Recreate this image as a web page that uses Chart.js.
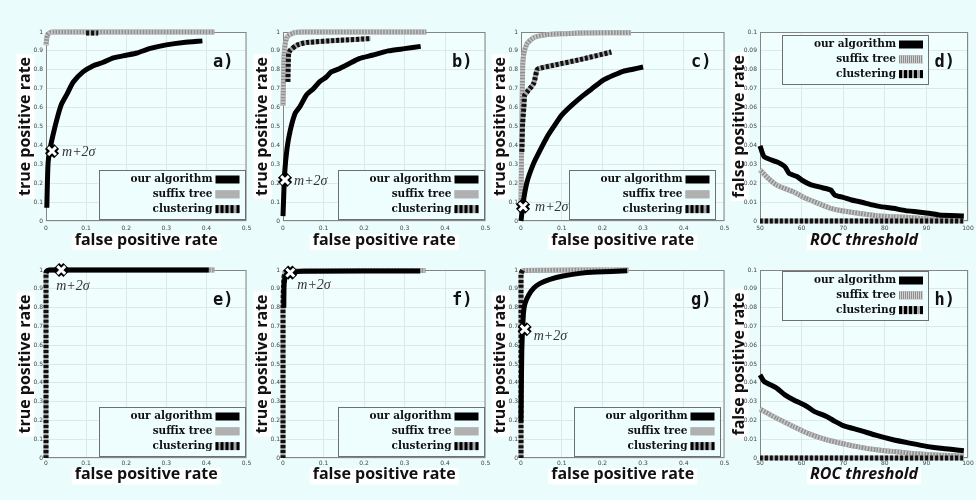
<!DOCTYPE html>
<html>
<head>
<meta charset="utf-8">
<script src="https://cdn.jsdelivr.net/npm/chart.js@4.4.1/dist/chart.umd.min.js"></script>
<style>
  html, body { margin: 0; padding: 0; background: #eafcfc; }
  #fig { position: relative; width: 976px; height: 500px; overflow: hidden; }
  #fig canvas { position: absolute; }
</style>
</head>
<body>
<div id="fig"></div>
<script>
const seriesNames = ["our algorithm", "suffix tree", "clustering"];
const panelLetters = ["a)", "b)", "c)", "d)", "e)", "f)", "g)", "h)"];
const markerLabel = "m+2σ";

const fprTicks = [0, 0.1, 0.2, 0.3, 0.4, 0.5];
const tprTicks = [0, 0.1, 0.2, 0.3, 0.4, 0.5, 0.6, 0.7, 0.8, 0.9, 1];
const thresholdTicks = [50, 60, 70, 80, 90, 100];
const fpRateTicks = [0, 0.01, 0.02, 0.03, 0.04, 0.05, 0.06, 0.07, 0.08, 0.09, 0.1];

// ROC curves, [false positive rate, true positive rate]
const ourA = [[0.002, 0.07], [0.005, 0.3], [0.01, 0.38], [0.018, 0.46], [0.03, 0.56], [0.039, 0.62], [0.052, 0.67], [0.068, 0.735], [0.093, 0.79], [0.118, 0.822], [0.143, 0.84], [0.168, 0.863], [0.2, 0.877], [0.227, 0.889], [0.26, 0.913], [0.3, 0.932], [0.343, 0.945], [0.39, 0.953]];
const suffixA = [[0, 0.93], [0.003, 0.98], [0.01, 0.997], [0.02, 1], [0.42, 1]];
const clustA = [[0.1, 0.995], [0.13, 0.995]];

const ourB = [[0, 0.026], [0.004, 0.25], [0.01, 0.384], [0.018, 0.48], [0.03, 0.57], [0.042, 0.606], [0.058, 0.667], [0.075, 0.7], [0.09, 0.736], [0.107, 0.762], [0.119, 0.789], [0.139, 0.806], [0.164, 0.833], [0.188, 0.859], [0.22, 0.877], [0.26, 0.9], [0.3, 0.912], [0.34, 0.924]];
const suffixB = [[0, 0.61], [0.003, 0.886], [0.01, 0.974], [0.026, 0.995], [0.05, 1], [0.354, 1]];
const clustB = [[0.012, 0.736], [0.013, 0.83], [0.014, 0.886], [0.018, 0.903], [0.034, 0.93], [0.058, 0.944], [0.139, 0.956], [0.216, 0.965]];

const ourC = [[0, 0], [0.005, 0.093], [0.015, 0.208], [0.031, 0.305], [0.047, 0.375], [0.064, 0.445], [0.08, 0.498], [0.1, 0.56], [0.125, 0.613], [0.153, 0.665], [0.178, 0.706], [0.202, 0.745], [0.227, 0.771], [0.251, 0.792], [0.275, 0.803], [0.3, 0.815]];
const suffixC = [[0, 0.09], [0.002, 0.46], [0.004, 0.81], [0.007, 0.886], [0.015, 0.938], [0.031, 0.97], [0.064, 0.986], [0.104, 0.991], [0.145, 0.995], [0.27, 0.996]];
const clustC = [[0.002, 0.366], [0.004, 0.516], [0.007, 0.604], [0.009, 0.665], [0.015, 0.683], [0.031, 0.727], [0.039, 0.798], [0.043, 0.806], [0.08, 0.824], [0.145, 0.854], [0.222, 0.894]];

const ourE = [[0, 0.985], [0.004, 0.997], [0.01, 1], [0.406, 1]];
const suffixE = [[0, 0.99], [0.01, 1], [0.42, 1]];
const clustE = [[0, 0], [0, 0.99], [0.006, 1]];

const ourF = [[0.002, 0.8], [0.003, 0.93], [0.008, 0.975], [0.018, 0.986], [0.05, 0.993], [0.339, 0.995]];
const suffixF = [[0, 0.98], [0.01, 0.995], [0.352, 0.997]];
const clustF = [[0, 0], [0, 0.8], [0.003, 0.97], [0.01, 0.99]];

const ourG = [[0, 0.195], [0.002, 0.575], [0.006, 0.77], [0.01, 0.823], [0.019, 0.867], [0.031, 0.903], [0.047, 0.929], [0.071, 0.95], [0.103, 0.968], [0.144, 0.982], [0.184, 0.989], [0.261, 0.996]];
const suffixG = [[0, 0.98], [0.005, 0.998], [0.265, 1]];
const clustG = [[0, 0], [0, 0.98], [0.004, 1]];

// false positive rate against ROC threshold
const ourD = [[50, 0.0398], [51, 0.034], [54, 0.0313], [56, 0.0287], [57, 0.0252], [59, 0.0234], [60, 0.0217], [62, 0.0194], [65, 0.0176], [67, 0.0164], [68, 0.0137], [70, 0.0125], [72, 0.0111], [74, 0.0102], [77, 0.0085], [79, 0.0076], [82, 0.0067], [85, 0.0055], [88, 0.0048], [91, 0.004], [93, 0.0032], [99, 0.0026]];
const suffixD = [[50, 0.027], [52, 0.0225], [54, 0.019], [58, 0.0155], [61, 0.012], [64, 0.0093], [67, 0.0067], [70, 0.0053], [74, 0.004], [78, 0.0028], [82, 0.0023], [86, 0.0018], [90, 0.0012], [94, 0.0009], [99, 0.0005]];
const clustD = [[50, 0], [99, 0]];

const ourH = [[50, 0.0442], [51, 0.0407], [54, 0.0372], [56, 0.0336], [58, 0.031], [61, 0.0278], [63, 0.0248], [66, 0.0221], [68, 0.0195], [70, 0.0172], [74, 0.0147], [78, 0.012], [82, 0.0097], [86, 0.0079], [90, 0.0062], [94, 0.005], [99, 0.0039]];
const suffixH = [[50, 0.026], [54, 0.0212], [58, 0.0168], [62, 0.0127], [66, 0.0097], [70, 0.0076], [74, 0.0058], [78, 0.0044], [82, 0.0034], [86, 0.0025], [90, 0.0019], [94, 0.0014], [99, 0.0011]];
const clustH = [[50, 0], [99, 0]];

// m+2σ operating points
const markerA = [[0.015, 0.37]];
const markerB = [[0.005, 0.217]];
const markerC = [[0.005, 0.076]];
const markerE = [[0.038, 1]];
const markerF = [[0.018, 0.986]];
const markerG = [[0.009, 0.685]];

const TITLE_FONT = { family: '"Open Sans", "DejaVu Sans", sans-serif', size: 16, weight: "bold" };
const TICK_FONT = { family: '"DejaVu Sans", sans-serif', size: 6 };

const roc = { xTicks: fprTicks, yTicks: tprTicks, xTitle: "false positive rate", yTitle: "true positive rate", xMax: 0.5, yMax: 1, xMin: 0 };
const thr = { xTicks: thresholdTicks, yTicks: fpRateTicks, xTitle: "ROC threshold", yTitle: "false positive rate", xMax: 100, yMax: 0.1, xMin: 50, italic: true };

const colLeft = [46, 283, 521, 760];
const colRight = [250, 489, 728, 968];
const rowTop = [32, 270];
const rowBottom = [221, 458];
const xTitlePad = [0, 16];
const yTitlePad = 16;

const panels = [
  { kind: roc, col: 0, row: 0, our: ourA, suffix: suffixA, clust: clustA, marker: markerA, markOff: [10, 1], legend: "br", legendDx: -2 },
  { kind: roc, col: 1, row: 0, our: ourB, suffix: suffixB, clust: clustB, marker: markerB, markOff: [9, 1], legend: "br", legendDx: -2 },
  { kind: roc, col: 2, row: 0, our: ourC, suffix: suffixC, clust: clustC, marker: markerC, markOff: [12, 1], legend: "br", legendDx: -10 },
  { kind: thr, col: 3, row: 0, our: ourD, suffix: suffixD, clust: clustD, legend: "tl" },
  { kind: roc, col: 0, row: 1, our: ourE, suffix: suffixE, clust: clustE, marker: markerE, markOff: [-5, 16], legend: "br", legendDx: -2 },
  { kind: roc, col: 1, row: 1, our: ourF, suffix: suffixF, clust: clustF, marker: markerF, markOff: [7, 13], legend: "br", legendDx: -2 },
  { kind: roc, col: 2, row: 1, our: ourG, suffix: suffixG, clust: clustG, marker: markerG, markOff: [9, 7], legend: "br", legendDx: -5 },
  { kind: thr, col: 3, row: 1, our: ourH, suffix: suffixH, clust: clustH, legend: "tl" }
];

function drawSwatch(ctx, i, x, y, w, h) {
  if (i === 0) {
    ctx.fillStyle = "#000";
    ctx.fillRect(x, y, w, h);
  } else if (i === 1) {
    ctx.fillStyle = "#8e8e8e";
    ctx.fillRect(x, y, w, h);
    ctx.fillStyle = "#d2d2d2";
    for (let k = 1; k < w; k += 2) ctx.fillRect(x + k, y, 1, h);
  } else {
    ctx.fillStyle = "#a8a8a8";
    ctx.fillRect(x, y, w, h);
    ctx.fillStyle = "#000";
    [0, 5, 10, 15, 21].forEach((k) => ctx.fillRect(x + k, y, 3, h));
  }
}

function fontString(f, italic) {
  return `${italic ? "italic " : ""}${f.weight} ${f.size}px ${f.family}`;
}

const panelDecor = {
  id: "panelDecor",
  beforeDraw(chart, args, opts) {
    const { ctx, chartArea: a } = chart;
    const p = opts.panel;
    const lh = TITLE_FONT.size * 1.2;
    ctx.save();
    ctx.fillStyle = "#f1fefe";
    ctx.fillRect(a.left, a.top, a.right - a.left, a.bottom - a.top);

    // white boxes behind the axis titles
    ctx.fillStyle = "#ffffff";
    ctx.font = fontString(TITLE_FONT, p.kind.italic);
    const xs = chart.scales.x;
    const wx = ctx.measureText(p.kind.xTitle).width;
    const cx = (a.left + a.right) / 2;
    const cyx = xs.bottom - xTitlePad[p.row] - lh / 2;
    ctx.fillRect(cx - wx / 2 - 3, cyx - 6, wx + 6, 16);
    ctx.font = fontString(TITLE_FONT, false);
    const ys = chart.scales.y;
    const wy = ctx.measureText(p.kind.yTitle).width;
    const cxy = ys.left + yTitlePad + lh / 2;
    const cy = (a.top + a.bottom) / 2;
    ctx.fillRect(cxy - 9, cy - wy / 2 - 3, 18, wy + 6);
    ctx.restore();
  },
  beforeDatasetsDraw(chart) {
    const { ctx, chartArea: a } = chart;
    ctx.save();
    ctx.strokeStyle = "#858585";
    ctx.lineWidth = 1;
    ctx.strokeRect(a.left + 0.5, a.top + 0.5, a.right - a.left - 1, a.bottom - a.top - 1);
    ctx.restore();
  },
  afterDraw(chart, args, opts) {
    const { ctx, chartArea: a } = chart;
    const p = opts.panel;
    ctx.save();

    // panel letter
    ctx.fillStyle = "#111";
    ctx.font = 'bold 17px "DejaVu Sans Mono", monospace';
    ctx.textAlign = "right";
    ctx.textBaseline = "middle";
    ctx.fillText(panelLetters[p.index], a.right - 13, a.top + 31);

    // m+2σ label
    if (p.marker) {
      const mx = chart.scales.x.getPixelForValue(p.marker[0][0]);
      const my = chart.scales.y.getPixelForValue(p.marker[0][1]);
      ctx.font = 'italic 14px "Liberation Serif", serif';
      ctx.fillStyle = "#333";
      ctx.textAlign = "left";
      ctx.fillText(markerLabel, mx + p.markOff[0], my + p.markOff[1]);
    }

    // legend box
    const bw = 146, bh = 49;
    let bx, by;
    if (p.legend === "br") {
      bx = a.right + p.legendDx - bw;
      by = a.bottom - 2 - bh;
    } else {
      bx = a.left + 22;
      by = a.top + (p.row === 0 ? 3 : 1);
    }
    ctx.fillStyle = "#eefdfd";
    ctx.fillRect(bx, by, bw, bh);
    ctx.strokeStyle = "#6f6f6f";
    ctx.lineWidth = 1;
    ctx.strokeRect(Math.round(bx) + 0.5, Math.round(by) + 0.5, bw, bh);
    ctx.font = 'bold 10.5px "DejaVu Serif", serif';
    ctx.textAlign = "right";
    seriesNames.forEach((name, i) => {
      const cy = by + 9.5 + i * 14.8;
      ctx.fillStyle = "#111";
      ctx.fillText(name, bx + bw - 32, cy);
      drawSwatch(ctx, i, bx + bw - 29, cy - 4, 24, 8);
    });
    ctx.restore();
  }
};

function line(data, color, dash) {
  return {
    data,
    borderColor: color,
    borderWidth: 5,
    borderDash: dash || [],
    borderCapStyle: "butt",
    borderJoinStyle: "round",
    pointRadius: 0,
    tension: 0.2,
    clip: 10
  };
}

function buildDatasets(p) {
  const sets = [];
  if (p.marker) {
    sets.push({ data: p.marker, showLine: false, pointStyle: "crossRot", pointRadius: 5.5, pointBorderWidth: 3, pointBorderColor: "#fff", clip: 14 });
    sets.push({ data: p.marker, showLine: false, pointStyle: "crossRot", pointRadius: 6.5, pointBorderWidth: 7, pointBorderColor: "#000", clip: 14 });
  }
  sets.push(line(p.our, "#000"));
  sets.push(line(p.clust, "#111", [3, 2]));
  sets.push(line(p.clust, "#a6a6a6"));
  sets.push(line(p.suffix, "#c8c8c8", [1.5, 1.5]));
  sets.push(line(p.suffix, "#8f8f8f"));
  return sets;
}

function fmtTick(v) {
  return String(+Number(v).toFixed(3));
}

function makePanel(p, index) {
  p.index = index;
  const k = p.kind;
  const plotL = colLeft[p.col], plotR = colRight[p.col];
  const plotT = rowTop[p.row], plotB = rowBottom[p.row];
  const left = plotL - 46;
  const top = plotT - 32;
  const width = plotR - plotL + 46 + 10;
  const height = p.row === 0 ? 250 : 500 - top;
  const xAxisH = height - 32 - (plotB - plotT);

  const canvas = document.createElement("canvas");
  canvas.width = width;
  canvas.height = height;
  canvas.style.left = left + "px";
  canvas.style.top = top + "px";
  document.getElementById("fig").appendChild(canvas);

  const gridOpts = { color: "#d6e3e3", lineWidth: 0.8, drawTicks: false };
  const titleFont = Object.assign({}, TITLE_FONT, k.italic ? { style: "italic" } : {});

  new Chart(canvas, {
    type: "line",
    data: { datasets: buildDatasets(p) },
    options: {
      responsive: false,
      animation: false,
      events: [],
      layout: { padding: { top: 32, right: 10, bottom: 0, left: 0 } },
      plugins: {
        legend: { display: false },
        tooltip: { enabled: false },
        panelDecor: { panel: p }
      },
      scales: {
        x: {
          type: "linear",
          min: k.xMin,
          max: k.xMax,
          afterBuildTicks: (s) => { s.ticks = k.xTicks.map((v) => ({ value: v })); },
          afterFit: (s) => { s.height = xAxisH; },
          grid: gridOpts,
          border: { display: false },
          ticks: { font: TICK_FONT, color: "#444", padding: p.row === 0 ? 4 : 2, autoSkip: false, maxRotation: 0, callback: fmtTick },
          title: { display: true, text: k.xTitle, font: titleFont, color: "#111", padding: { top: 0, bottom: xTitlePad[p.row] } }
        },
        y: {
          type: "linear",
          min: 0,
          max: k.yMax,
          afterBuildTicks: (s) => { s.ticks = k.yTicks.map((v) => ({ value: v })); },
          afterFit: (s) => { s.width = 46; },
          grid: gridOpts,
          border: { display: false },
          ticks: { font: TICK_FONT, color: "#444", padding: 3, autoSkip: false, callback: fmtTick },
          title: { display: true, text: k.yTitle, font: TITLE_FONT, color: "#111", padding: { top: yTitlePad, bottom: 0 } }
        }
      }
    },
    plugins: [panelDecor]
  });
}

panels.forEach(makePanel);
</script>
</body>
</html>
